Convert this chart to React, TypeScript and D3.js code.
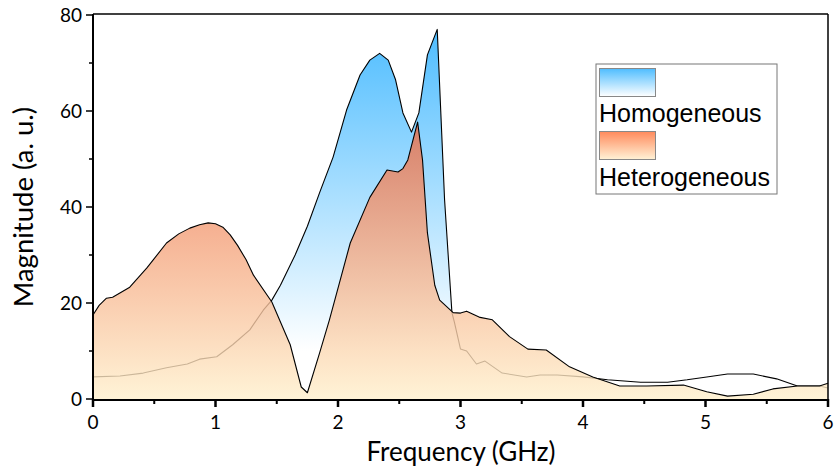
import React from "react";
import * as d3 from "d3";

// Dimensões
const WIDTH = 834;
const HEIGHT = 470;
const M = { left: 93, right: 6, top: 15, bottom: 71 };

// Dados
const homoFreq = [0, 0.22, 0.41, 0.6, 0.77, 0.87, 1.01, 1.14, 1.28, 1.39, 1.46, 1.53, 1.65, 1.75, 1.85, 1.96, 2.07, 2.18, 2.26, 2.34, 2.41, 2.47, 2.53, 2.6, 2.66, 2.73, 2.81, 2.87, 2.93, 2.95, 3.0, 3.05, 3.13, 3.2, 3.34, 3.54, 3.65, 3.79, 4.0, 4.2, 4.47, 4.69, 4.85, 5.01, 5.18, 5.39, 5.58, 5.75, 5.93, 6.0];
const homoMag = [4.6, 4.8, 5.4, 6.5, 7.3, 8.3, 8.8, 11.3, 14.4, 18.5, 20.6, 23.7, 30, 36, 43, 50.4, 60.2, 67.5, 70.6, 72, 70.6, 66.5, 59.6, 55.6, 59.6, 71.7, 77, 41.5, 18, 16, 10.4, 10, 7.3, 7.9, 5.4, 4.6, 5, 5, 4.6, 4.0, 3.5, 3.5, 4.0, 4.6, 5.2, 5.2, 4.2, 2.7, 2.7, 2.3];

const heteroFreq = [0, 0.05, 0.11, 0.16, 0.3, 0.44, 0.6, 0.7, 0.79, 0.87, 0.94, 1.0, 1.06, 1.12, 1.18, 1.25, 1.31, 1.46, 1.61, 1.7, 1.75, 1.85, 1.93, 2.1, 2.26, 2.4, 2.49, 2.53, 2.57, 2.65, 2.69, 2.73, 2.79, 2.83, 2.94, 3.0, 3.05, 3.16, 3.26, 3.4, 3.55, 3.7, 3.89, 4.08, 4.3, 4.52, 4.82, 5.01, 5.18, 5.39, 5.55, 5.75, 5.93, 6.0];
const heteroMag = [17.5, 19.5, 21, 21.2, 23.3, 27.3, 32.5, 34.4, 35.6, 36.3, 36.7, 36.5, 35.8, 34.2, 32, 29, 25.8, 20.2, 11.3, 2.5, 1.3, 9.6, 16.5, 32.5, 42, 47.7, 47.3, 48, 49.8, 57.7, 49.8, 34.6, 23.7, 20.6, 18, 17.9, 18.3, 17, 16.5, 13, 10.4, 10.2, 6.7, 4.6, 2.7, 2.7, 2.9, 1.5, 0.6, 1.0, 2.1, 2.7, 2.7, 3.3];

const xTicks = [0, 1, 2, 3, 4, 5, 6];
const yTicks = [0, 20, 40, 60, 80];
const legendLabels = ["Homogeneous", "Heterogeneous"];

const App: React.FC = () => {
  const x = d3.scaleLinear().domain([0, 6]).range([M.left, WIDTH - M.right]);
  const y = d3.scaleLinear().domain([0, 80]).range([HEIGHT - M.bottom, M.top]);

  const homo = homoFreq.map((f, i) => [f, homoMag[i]] as [number, number]);
  const hetero = heteroFreq.map((f, i) => [f, heteroMag[i]] as [number, number]);

  const area = d3
    .area<[number, number]>()
    .x((d) => x(d[0]))
    .y0(y(0))
    .y1((d) => y(d[1]));
  const line = d3
    .line<[number, number]>()
    .x((d) => x(d[0]))
    .y((d) => y(d[1]));

  const minorX = d3.range(0.5, 6, 1);
  const minorY = d3.range(10, 80, 20);
  const tickFont = "Lato, 'Open Sans', sans-serif";
  const legendFont = "'Liberation Sans', Arial, sans-serif";

  return (
    <svg
      width={WIDTH}
      height={HEIGHT}
      style={{ position: "absolute", left: 0, top: 0, background: "#fff" }}
    >
      <defs>
        <linearGradient id="gBlue" gradientUnits="userSpaceOnUse" x1="0" x2="0" y1={y(77)} y2={y(10)}>
          <stop offset="0" stopColor="#4fbdff" />
          <stop offset="1" stopColor="#ffffff" />
        </linearGradient>
        <linearGradient id="gOrange" gradientUnits="userSpaceOnUse" x1="0" x2="0" y1={y(58)} y2={y(0)}>
          <stop offset="0" stopColor="#ec6a42" />
          <stop offset="1" stopColor="#fff0cc" />
        </linearGradient>
        <linearGradient id="lBlue" x1="0" x2="0" y1="0" y2="1">
          <stop offset="0" stopColor="#4fbdff" />
          <stop offset="1" stopColor="#ffffff" />
        </linearGradient>
        <linearGradient id="lOrange" x1="0" x2="0" y1="0" y2="1">
          <stop offset="0" stopColor="#ff8a5c" />
          <stop offset="1" stopColor="#fff2d6" />
        </linearGradient>
      </defs>

      {/* Séries */}
      <path d={area(homo) || ""} fill="url(#gBlue)" />
      <path d={line(homo) || ""} fill="none" stroke="#000" strokeWidth={1.1} strokeLinejoin="round" />
      <path d={area(hetero) || ""} fill="url(#gOrange)" fillOpacity={0.8} />
      <path d={line(hetero) || ""} fill="none" stroke="#000" strokeWidth={1.1} strokeLinejoin="round" />

      {/* Moldura */}
      <line x1={M.left} x2={WIDTH - M.right} y1={M.top - 1} y2={M.top - 1} stroke="#000" strokeWidth={1.5} />
      <line x1={WIDTH - M.right} x2={WIDTH - M.right} y1={M.top - 1} y2={y(0)} stroke="#000" strokeWidth={1.5} />

      {/* Eixo X */}
      <line x1={M.left - 1} x2={WIDTH - M.right + 1} y1={y(0) + 1} y2={y(0) + 1} stroke="#000" strokeWidth={2} />
      {xTicks.map((t) => (
        <g key={"x" + t}>
          <line x1={x(t)} x2={x(t)} y1={y(0)} y2={y(0) + 8} stroke="#000" strokeWidth={2.5} />
          <text x={x(t)} y={429} textAnchor="middle" fontFamily={tickFont} fontSize={19}>
            {t}
          </text>
        </g>
      ))}
      {minorX.map((t) => (
        <line key={"mx" + t} x1={x(t)} x2={x(t)} y1={y(0)} y2={y(0) + 5} stroke="#000" strokeWidth={2} />
      ))}
      <text x={461} y={461} textAnchor="middle" fontFamily={tickFont} fontSize={26}>
        Frequency (GHz)
      </text>

      {/* Eixo Y */}
      <line x1={M.left} x2={M.left} y1={M.top - 1} y2={y(0) + 2} stroke="#000" strokeWidth={2} />
      {yTicks.map((t) => (
        <g key={"y" + t}>
          <line x1={M.left - 7} x2={M.left} y1={y(t)} y2={y(t)} stroke="#000" strokeWidth={1.5} />
          <text x={M.left - 11} y={y(t) + 7} textAnchor="end" fontFamily={tickFont} fontSize={19}>
            {t}
          </text>
        </g>
      ))}
      {minorY.map((t) => (
        <line key={"my" + t} x1={M.left - 4} x2={M.left} y1={y(t)} y2={y(t)} stroke="#000" strokeWidth={1.5} />
      ))}
      <text
        transform="translate(33,207) rotate(-90)"
        textAnchor="middle"
        fontFamily={tickFont}
        fontSize={27.5}
      >
        Magnitude (a. u.)
      </text>

      {/* Legenda */}
      <g>
        <rect x={596} y={64} width={181} height={130} fill="#fff" stroke="#777" strokeWidth={1} />
        <rect x={599.5} y={68.5} width={56} height={28} fill="url(#lBlue)" stroke="#888" strokeWidth={1} />
        <text x={599} y={122} fontFamily={legendFont} fontSize={25}>
          {legendLabels[0]}
        </text>
        <rect x={599.5} y={131.5} width={56} height={28} fill="url(#lOrange)" stroke="#888" strokeWidth={1} />
        <text x={599} y={186} fontFamily={legendFont} fontSize={25}>
          {legendLabels[1]}
        </text>
      </g>
    </svg>
  );
};

export default App;
